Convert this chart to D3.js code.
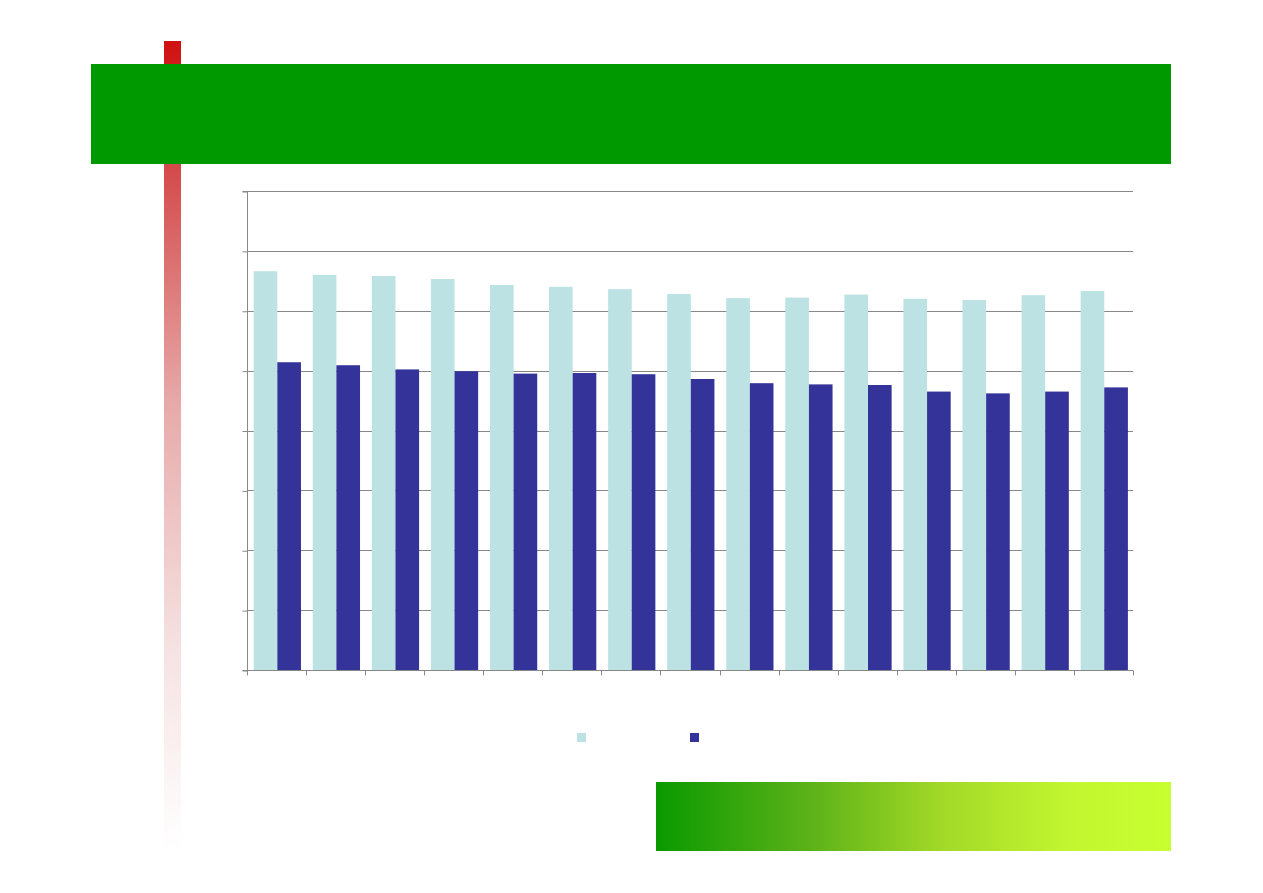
<!DOCTYPE html>
<html>
<head>
<meta charset="utf-8">
<script src="https://cdn.jsdelivr.net/npm/d3@7"></script>
<style>
html,body{margin:0;padding:0;background:#fff;}
svg{display:block;}
</style>
</head>
<body>
<script>
const categories = ["1","2","3","4","5","6","7","8","9","10","11","12","13","14","15"];
const seriesNames = ["Series A","Series B"];
const seriesA = [66.6,66.0,65.8,65.3,64.3,64.0,63.6,62.8,62.1,62.2,62.7,62.0,61.8,62.6,63.3];
const seriesB = [51.4,50.9,50.2,49.9,49.5,49.6,49.4,48.6,47.9,47.7,47.6,46.5,46.2,46.5,47.2];
const yTicks = [0,10,20,30,40,50,60,70,80];
const colors = ["#bce2e3","#333399"];

(function(){
const W = 1263, H = 893;
const svg = d3.select("body").append("svg").attr("width", W).attr("height", H);
const defs = svg.append("defs");

// left red fading bar
const rg = defs.append("linearGradient").attr("id","redfade").attr("x1",0).attr("y1",0).attr("x2",0).attr("y2",1);
rg.append("stop").attr("offset","0%").attr("stop-color","#d01010");
rg.append("stop").attr("offset","15%").attr("stop-color","#d44848");
rg.append("stop").attr("offset","45%").attr("stop-color","#e7aaaa");
rg.append("stop").attr("offset","75%").attr("stop-color","#f6e2e2");
rg.append("stop").attr("offset","100%").attr("stop-color","#ffffff");
svg.append("rect").attr("x",164).attr("y",41).attr("width",17).attr("height",810).attr("fill","url(#redfade)");

// green header band
svg.append("rect").attr("x",91).attr("y",64).attr("width",1080).attr("height",100).attr("fill","#009900");

// bottom green gradient
const gg = defs.append("linearGradient").attr("id","greenfade").attr("x1",0).attr("y1",0).attr("x2",1).attr("y2",0);
gg.append("stop").attr("offset","0%").attr("stop-color","#0a9900");
gg.append("stop").attr("offset","30%").attr("stop-color","#5cb218");
gg.append("stop").attr("offset","55%").attr("stop-color","#a2d828");
gg.append("stop").attr("offset","80%").attr("stop-color","#c2f630");
gg.append("stop").attr("offset","100%").attr("stop-color","#c8ff30");
svg.append("rect").attr("x",656).attr("y",782).attr("width",515).attr("height",69).attr("fill","url(#greenfade)");

// chart
const pL = 247, pR = 1133, pT = 191, pB = 670;
const x = d3.scaleBand().domain(categories).range([pL, pR]).paddingInner(0).paddingOuter(0);
const bw = x.bandwidth();
const barW = bw * 0.4;
const offset = (bw - 2*barW)/2 + 0.8;
const y = d3.scaleLinear().domain([0,80]).range([pB, pT]);

const g = svg.append("g");
// gridlines
g.selectAll("line.grid").data(yTicks.slice(1)).enter().append("line")
  .attr("x1", pL).attr("x2", pR)
  .attr("y1", d => Math.round(y(d))+0.5).attr("y2", d => Math.round(y(d))+0.5)
  .attr("stroke","#888").attr("stroke-width",1);

// bars
const data = categories.map((c,i)=>({c, a:seriesA[i], b:seriesB[i]}));
g.selectAll("rect.a").data(data).enter().append("rect")
  .attr("x", d => x(d.c)+offset).attr("width", barW)
  .attr("y", d => y(d.a)).attr("height", d => pB - y(d.a))
  .attr("fill", colors[0]);
g.selectAll("rect.b").data(data).enter().append("rect")
  .attr("x", d => x(d.c)+offset+barW).attr("width", barW)
  .attr("y", d => y(d.b)).attr("height", d => pB - y(d.b))
  .attr("fill", colors[1]);

// y axis
const yAxis = d3.axisLeft(y).tickValues(yTicks).tickSize(5).tickFormat("");
const ya = svg.append("g").attr("transform",`translate(${pL+0.5},0.5)`).call(yAxis);
ya.selectAll("path,line").attr("stroke","#888");
ya.select(".domain").attr("d", `M-5,${pT}H0V${pB}H-5`).attr("stroke","#888");

// x axis
const xAxis = d3.axisBottom(x).tickSize(0).tickFormat("");
const xa = svg.append("g").attr("transform",`translate(0,${pB+0.5})`).call(xAxis);
xa.select(".domain").attr("d", `M${pL},0H${pR}`).attr("stroke","#888");
const bounds = categories.map(c => x(c)).concat([pR]);
xa.selectAll("line.tk").data(bounds).enter().append("line")
  .attr("x1", d => Math.round(d)+0.5).attr("x2", d => Math.round(d)+0.5)
  .attr("y1",0).attr("y2",5).attr("stroke","#888");

// legend (markers only)
const legend = svg.append("g");
const lx = [577, 690];
seriesNames.forEach((n,i)=>{
  legend.append("rect").attr("x", lx[i]).attr("y",733).attr("width",9).attr("height",9).attr("fill",colors[i]);
});
})();
</script>
</body>
</html>
